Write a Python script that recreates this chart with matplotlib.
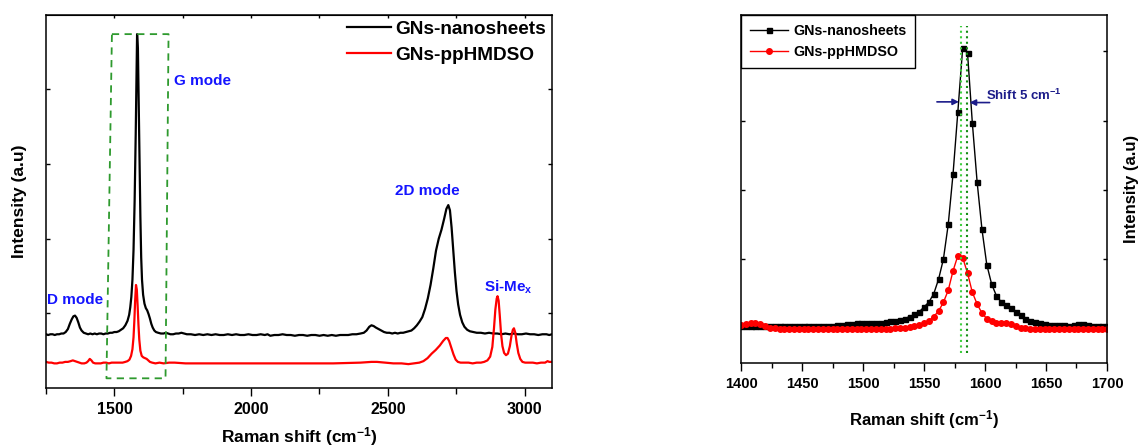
import matplotlib
matplotlib.use('Agg')
import matplotlib.pyplot as plt
import numpy as np

plt.rcParams['font.family'] = ['Liberation Sans', 'DejaVu Sans']
plt.rcParams['font.weight'] = 'bold'
plt.rcParams['mathtext.fontset'] = 'custom'
plt.rcParams['mathtext.rm'] = 'Liberation Sans:bold'
plt.rcParams['mathtext.it'] = 'Liberation Sans:bold'
plt.rcParams['mathtext.bf'] = 'Liberation Sans:bold'

# ---- full Raman spectra (left panel) ----
shift_gns = [1250, 1258, 1266, 1274, 1282, 1290, 1298, 1306, 1314, 1322, 1330, 1337,
             1344, 1350, 1356, 1362, 1368, 1374, 1380, 1388, 1396, 1404, 1412, 1420,
             1428, 1436, 1444, 1452, 1460, 1468, 1476, 1484, 1492, 1500, 1508, 1516,
             1524, 1532, 1540, 1548, 1554, 1558, 1562, 1566, 1570, 1574, 1578, 1581,
             1583, 1586, 1589, 1592, 1595, 1598, 1601, 1605, 1610, 1615, 1620, 1625,
             1630, 1635, 1640, 1646, 1652, 1660, 1670, 1680, 1688, 1696, 1705, 1715,
             1725, 1735, 1745, 1755, 1765, 1780, 1795, 1810, 1825, 1840, 1855, 1870,
             1885, 1900, 1915, 1930, 1945, 1960, 1975, 1990, 2005, 2020, 2035, 2050,
             2060, 2070, 2085, 2100, 2115, 2130, 2145, 2160, 2175, 2190, 2205, 2220,
             2235, 2250, 2265, 2280, 2295, 2310, 2325, 2340, 2355, 2370, 2385, 2400,
             2412, 2422, 2432, 2440, 2448, 2456, 2466, 2476, 2486, 2496, 2506, 2516,
             2526, 2536, 2546, 2556, 2566, 2576, 2586, 2596, 2606, 2616, 2626, 2636,
             2646, 2656, 2666, 2676, 2686, 2696, 2706, 2714, 2721, 2727, 2733, 2739,
             2745, 2751, 2757, 2764, 2772, 2780, 2790, 2800, 2812, 2825, 2840, 2855,
             2870, 2885, 2900, 2915, 2930, 2945, 2960, 2975, 2990, 3005, 3020, 3035,
             3050, 3065, 3080, 3090, 3100]
int_gns = [0.72, 0.71, 0.72, 0.72, 0.71, 0.72, 0.72, 0.73, 0.73, 0.75, 0.79, 0.86,
           0.92, 0.96, 0.97, 0.94, 0.88, 0.81, 0.77, 0.74, 0.73, 0.72, 0.73, 0.72,
           0.73, 0.72, 0.73, 0.73, 0.72, 0.73, 0.73, 0.74, 0.74, 0.75, 0.75, 0.76,
           0.78, 0.80, 0.84, 0.90, 0.98, 1.08, 1.22, 1.45, 1.85, 2.50, 3.40, 4.20,
           4.74, 4.55, 3.80, 3.00, 2.30, 1.75, 1.45, 1.25, 1.13, 1.07, 1.04, 0.99,
           0.93, 0.86, 0.81, 0.77, 0.75, 0.74, 0.73, 0.73, 0.74, 0.73, 0.72, 0.72,
           0.73, 0.73, 0.74, 0.73, 0.72, 0.72, 0.71, 0.72, 0.71, 0.72, 0.71, 0.72,
           0.71, 0.71, 0.72, 0.71, 0.72, 0.71, 0.71, 0.72, 0.71, 0.71, 0.72, 0.71,
           0.72, 0.70, 0.71, 0.71, 0.72, 0.71, 0.71, 0.70, 0.71, 0.71, 0.70, 0.71,
           0.71, 0.70, 0.71, 0.70, 0.71, 0.70, 0.71, 0.71, 0.71, 0.72, 0.72, 0.73,
           0.74, 0.77, 0.82, 0.84, 0.83, 0.81, 0.79, 0.77, 0.75, 0.74, 0.74, 0.73,
           0.74, 0.73, 0.74, 0.74, 0.75, 0.76, 0.77, 0.80, 0.84, 0.89, 0.95, 1.06,
           1.20, 1.38, 1.60, 1.84, 2.00, 2.12, 2.27, 2.40, 2.45, 2.38, 2.15, 1.85,
           1.55, 1.30, 1.12, 0.98, 0.88, 0.82, 0.78, 0.76, 0.75, 0.74, 0.74, 0.73,
           0.74, 0.73, 0.73, 0.72, 0.73, 0.72, 0.73, 0.72, 0.72, 0.73, 0.72, 0.72,
           0.71, 0.72, 0.72, 0.71, 0.72]

shift_pp = [1250, 1260, 1270, 1280, 1290, 1300, 1310, 1320, 1330, 1340, 1348, 1356,
            1364, 1372, 1380, 1390, 1398, 1404, 1410, 1416, 1422, 1430, 1440, 1450,
            1460, 1470, 1480, 1490, 1500, 1510, 1520, 1530, 1540, 1548, 1555, 1561,
            1566, 1570, 1573, 1576, 1579, 1582, 1585, 1588, 1591, 1595, 1600, 1606,
            1612, 1618, 1624, 1630, 1638, 1650, 1665, 1680, 1700, 1720, 1760, 1800,
            1850, 1900, 1950, 2000, 2100, 2200, 2300, 2400, 2440, 2460, 2490, 2520,
            2550, 2575, 2595, 2615, 2630, 2645, 2660, 2675, 2690, 2702, 2712, 2718,
            2724, 2732, 2740, 2748, 2756, 2766, 2780, 2795, 2810, 2825, 2840, 2852,
            2864, 2874, 2882, 2888, 2893, 2898, 2901, 2905, 2909, 2914, 2919, 2925,
            2932, 2939, 2946, 2952, 2957, 2961, 2966, 2971, 2977, 2984, 2992, 3002,
            3015, 3030, 3045, 3060, 3075, 3084, 3090, 3100]
int_pp = [0.35, 0.34, 0.34, 0.33, 0.33, 0.34, 0.34, 0.35, 0.35, 0.36, 0.37, 0.36,
          0.35, 0.34, 0.33, 0.33, 0.34, 0.36, 0.39, 0.37, 0.34, 0.33, 0.33, 0.33,
          0.34, 0.34, 0.33, 0.34, 0.34, 0.34, 0.34, 0.34, 0.35, 0.36, 0.38, 0.43,
          0.52, 0.68, 0.90, 1.18, 1.38, 1.32, 1.10, 0.85, 0.65, 0.50, 0.43, 0.41,
          0.40, 0.39, 0.37, 0.35, 0.34, 0.33, 0.34, 0.33, 0.34, 0.34, 0.33, 0.33,
          0.33, 0.33, 0.33, 0.33, 0.33, 0.33, 0.33, 0.34, 0.35, 0.35, 0.34, 0.33,
          0.33, 0.32, 0.33, 0.34, 0.36, 0.40, 0.46, 0.51, 0.57, 0.63, 0.67, 0.67,
          0.63, 0.54, 0.45, 0.38, 0.35, 0.34, 0.34, 0.34, 0.33, 0.34, 0.34, 0.35,
          0.37, 0.42, 0.55, 0.80, 1.05, 1.20, 1.23, 1.17, 0.98, 0.72, 0.56, 0.47,
          0.44, 0.46, 0.56, 0.70, 0.78, 0.80, 0.74, 0.60, 0.47, 0.39, 0.35, 0.34,
          0.34, 0.34, 0.33, 0.34, 0.34, 0.36, 0.35, 0.35]

# ---- zoom on the G band (right panel), instrument step ~3.95 cm-1 ----
shift_g = np.arange(1400, 1701, 3.95)
g_gns = [0.04, 0.04, 0.04, 0.04, 0.04, 0.03, 0.03, 0.03, 0.03, 0.03, 0.03,
         0.04, 0.04, 0.04, 0.04, 0.04, 0.03, 0.03, 0.04, 0.04, 0.05,
         0.05, 0.06, 0.06, 0.07, 0.07, 0.08, 0.08, 0.08, 0.08, 0.09,
         0.10, 0.11, 0.12, 0.14, 0.17, 0.20, 0.24, 0.31, 0.38, 0.50,
         0.71, 1.00, 1.50, 2.23, 3.13, 4.05, 3.98, 2.97, 2.11, 1.43,
         0.92, 0.64, 0.47, 0.38, 0.34, 0.29, 0.24, 0.19, 0.14, 0.11,
         0.09, 0.07, 0.06, 0.05, 0.05, 0.05, 0.05, 0.04, 0.05, 0.06,
         0.06, 0.05, 0.04, 0.04, 0.03, 0.03]
g_pp = [0.05, 0.06, 0.07, 0.07, 0.06, 0.03, 0.01, 0.00, -0.01, -0.01, -0.01,
        -0.01, -0.01, -0.01, -0.01, -0.01, -0.01, -0.01, -0.01, -0.01, -0.01,
        -0.01, -0.01, -0.01, -0.01, -0.01, -0.01, -0.01, -0.01, -0.01, -0.01,
        -0.01, 0.00, 0.00, 0.01, 0.02, 0.03, 0.05, 0.07, 0.11, 0.17,
        0.25, 0.375, 0.55, 0.83, 1.05, 1.02, 0.80, 0.52, 0.35, 0.22,
        0.14, 0.10, 0.07, 0.08, 0.07, 0.06, 0.03, 0.01, 0.00, -0.01,
        -0.01, -0.01, -0.01, -0.01, -0.01, -0.01, -0.01, -0.01, -0.01, -0.01,
        -0.01, -0.01, -0.01, -0.01, -0.01, -0.01]

labels = ['GNs-nanosheets', 'GNs-ppHMDSO']
blue = '#1414ff'
navy = '#1c1c8a'
xlabel = 'Raman shift (cm$^{-1}$)'

fig = plt.figure(figsize=(11.39, 4.46), dpi=100)

# left panel: full spectra
ax1 = fig.add_axes([0.0404, 0.130, 0.4442, 0.837])
ax1.plot(shift_gns, int_gns, color='black', lw=1.6, label=labels[0])
ax1.plot(shift_pp, int_pp, color='red', lw=1.6, label=labels[1])
ax1.set_xlim(1250, 3100)
ax1.set_ylim(0, 5)
ax1.set_xticks([1500, 2000, 2500, 3000])
ax1.set_xticks([1250, 1750, 2250, 2750], minor=True)
ax1.set_yticks([1, 2, 3, 4])
ax1.tick_params(axis='x', which='major', direction='out', length=6, width=1,
                labelsize=11.5, pad=4)
ax1.tick_params(axis='x', which='minor', direction='out', length=4, width=1)
ax1.tick_params(axis='y', which='both', direction='in', length=3, width=1,
                left=True, right=True, labelleft=False)
top1 = ax1.secondary_xaxis('top')
top1.set_xticks([1500, 1750, 2000, 2250, 2500, 2750, 3000])
top1.tick_params(direction='in', length=2.5, width=1, labeltop=False)
for sp in ax1.spines.values():
    sp.set_linewidth(1.1)
ax1.set_xlabel(xlabel, fontsize=12.5, fontweight='bold', labelpad=6)
ax1.set_ylabel('Intensity (a.u)', fontsize=12.5, fontweight='bold', labelpad=14)

# dashed frame around the G band
box_x = [1491, 1698, 1687, 1471, 1491]
box_y = [4.74, 4.74, 0.13, 0.13, 4.74]
ax1.plot(box_x, box_y, color='#2e9a2e', lw=1.3, ls=(0, (4, 3)))

ax1.text(1254, 1.18, 'D mode', color=blue, fontsize=11, fontweight='bold',
         ha='left', va='center')
ax1.text(1718, 4.11, 'G mode', color=blue, fontsize=11, fontweight='bold',
         ha='left', va='center')
ax1.text(2643, 2.64, '2D mode', color=blue, fontsize=11, fontweight='bold',
         ha='center', va='center')
ax1.text(2850, 1.35, 'Si-Me$_{x}$', color=blue, fontsize=11, fontweight='bold',
         ha='left', va='center')

ax1.legend(loc='upper right', bbox_to_anchor=(1.0, 1.0), frameon=False,
           fontsize=13.7, handlelength=2.3, handletextpad=0.25,
           labelspacing=0.45, borderaxespad=0.0, borderpad=0.3)

# right panel: G band close-up
ax2 = fig.add_axes([0.6506, 0.1854, 0.3213, 0.7803])
ax2.plot(shift_g, g_gns, color='black', lw=1.0, marker='s', ms=3.6,
         label=labels[0])
ax2.plot(shift_g, g_pp, color='red', lw=1.0, marker='o', ms=4,
         label=labels[1])
ax2.set_xlim(1400, 1700)
ax2.set_ylim(-0.505, 4.52)
ax2.set_xticks(np.arange(1400, 1701, 50))
ax2.set_xticks(np.arange(1425, 1700, 50), minor=True)
ax2.set_yticks([0, 1, 2, 3, 4])
ax2.tick_params(axis='x', which='major', direction='out', length=6, width=1,
                labelsize=10.5, pad=4)
ax2.tick_params(axis='x', which='minor', direction='out', length=3.5, width=1)
ax2.tick_params(axis='y', which='both', direction='in', length=3, width=1,
                left=True, right=True, labelleft=False)
for sp in ax2.spines.values():
    sp.set_linewidth(1.1)
ax2.set_xlabel(xlabel, fontsize=12, fontweight='bold', labelpad=12)
ax2.yaxis.set_label_position('right')
ax2.set_ylabel('Intensity (a.u)', fontsize=12, fontweight='bold', labelpad=12)

# peak positions of the two samples
ax2.plot([1580.5, 1580.5], [-0.36, 4.36], color='#3fcf3f', lw=1.5, ls=':')
ax2.plot([1585.3, 1585.3], [-0.36, 4.36], color='#148c14', lw=1.5, ls=':')
ax2.annotate('', xy=(1578.6, 3.27), xytext=(1560.6, 3.27),
             arrowprops=dict(arrowstyle='-|>', color=navy, lw=1.2,
                             mutation_scale=9, shrinkA=0, shrinkB=0))
ax2.annotate('', xy=(1587.4, 3.26), xytext=(1603.8, 3.26),
             arrowprops=dict(arrowstyle='-|>', color=navy, lw=1.2,
                             mutation_scale=9, shrinkA=0, shrinkB=0))
ax2.text(1601, 3.37, 'Shift 5 cm$^{-1}$', color=navy, fontsize=9.5,
         fontweight='bold', ha='left', va='center')

leg = ax2.legend(loc='upper left', bbox_to_anchor=(0.0, 1.0), fontsize=10.3,
                 numpoints=1, handlelength=2.7, handletextpad=0.33,
                 labelspacing=0.5, borderaxespad=0.0, borderpad=0.6,
                 fancybox=False, framealpha=1, edgecolor='black')
leg.get_frame().set_linewidth(1.0)

plt.savefig('out.png', dpi=100)
plt.close()
